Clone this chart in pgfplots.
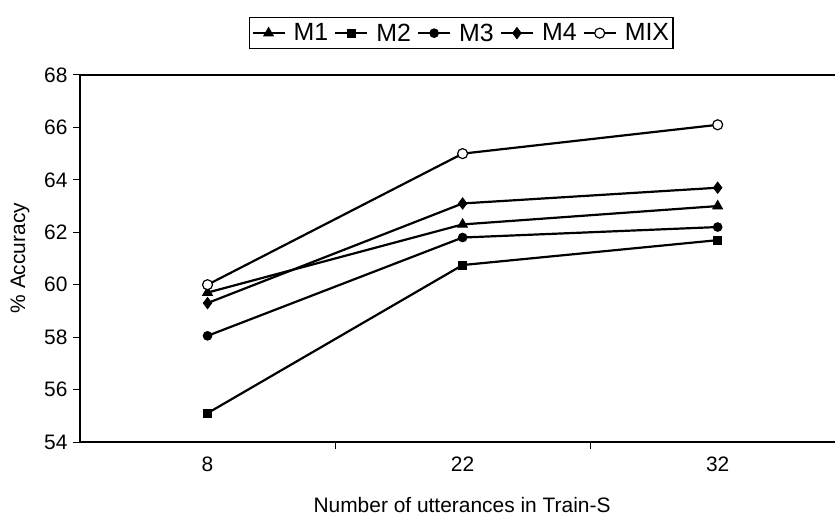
\documentclass[border=0pt]{standalone}
\usepackage{fontspec}
\setmainfont{Liberation Sans}
\usepackage{pgfplots}
\pgfplotsset{compat=1.18}
\begin{document}
\begin{tikzpicture}
\begin{axis}[
  scale only axis, width=755bp, height=367bp,
  xmin=-0.5, xmax=2.46, ymin=54, ymax=68,
  axis x line*=bottom, axis y line*=left,
  clip=false,
  ytick={54,56,...,68},
  xtick={0.5,1.5}, xticklabels={},
  extra x ticks={0,1,2}, extra x tick labels={8,22,32},
  extra x tick style={tick style={draw=none}},
  tick align=outside, major tick length=7bp,
  tick style={black, line width=1bp},
  axis line style={line width=1.2bp},
  /pgf/number format/assume math mode=true,
  ticklabel style={font=\fontsize{21}{24}\selectfont},
  yticklabel style={xshift=-2bp},
  xticklabel style={yshift=-4bp},
  label style={font=\fontsize{21}{24}\selectfont},
  xlabel={Number of utterances in Train-S},
  ylabel={\% Accuracy},
  xlabel style={at={(axis description cs:0.506,0)}, anchor=center, yshift=-63bp},
  ylabel style={at={(axis description cs:0,0.501)}, anchor=center, yshift=60bp},
  legend style={at={(0.505,1.114)}, anchor=center, legend columns=-1, draw=black, line width=1.2bp,
    font=\fontsize{25}{27}\selectfont, inner xsep=2bp, inner ysep=4bp,
    /tikz/every even column/.append style={column sep=4bp},
    /tikz/every odd column/.append style={column sep=6bp}},
  legend image code/.code={\draw[mark repeat=2,mark phase=2] plot coordinates {(0bp,0bp) (16bp,0bp) (32bp,0bp)};},
]
\addplot[black, line width=2.2bp, mark=triangle*, mark size=5.5bp, mark options={solid, fill=black, line width=1bp}] coordinates {(0,59.7) (1,62.3) (2,63.0)};
\addlegendentry{M1}
\addplot[black, line width=2.2bp, mark=square*, mark size=4bp, mark options={solid, fill=black, line width=1bp}] coordinates {(0,55.1) (1,60.75) (2,61.7)};
\addlegendentry{M2}
\addplot[black, line width=2.2bp, mark=*, mark size=4.3bp, mark options={solid, fill=black, line width=1bp}] coordinates {(0,58.05) (1,61.8) (2,62.2)};
\addlegendentry{M3}
\addplot[black, line width=2.2bp, mark=diamond*, mark size=5.5bp, mark options={solid, fill=black, line width=1bp}] coordinates {(0,59.3) (1,63.1) (2,63.7)};
\addlegendentry{M4}
\addplot[black, line width=2.2bp, mark=*, mark size=5bp, mark options={solid, fill=white, draw=black, line width=1.2bp}] coordinates {(0,60.0) (1,65.0) (2,66.1)};
\addlegendentry{MIX}
\draw[line width=1.2bp] (rel axis cs:0,1) -- (rel axis cs:1,1);
\coordinate (SW) at (rel axis cs:0,0);
\coordinate (NE) at (rel axis cs:1,1);
\end{axis}
\pgfresetboundingbox
\path ([shift={(-80bp,-79bp)}]SW) rectangle ([shift={(0bp,75bp)}]NE);
\end{tikzpicture}
\end{document}
